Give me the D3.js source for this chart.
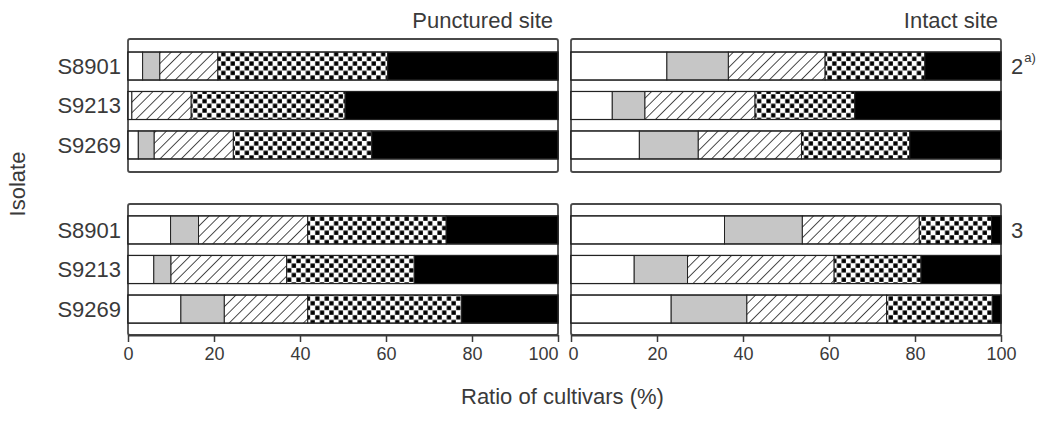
<!DOCTYPE html>
<html>
  <head>
    <meta charset="utf-8">
    <title>Ratio of cultivars by isolate</title>
    <style>
      body { margin: 0; background: #fff; }
      text { font-family: "Liberation Sans", Arial, sans-serif; fill: #3a3a3a; }
    </style>
  </head>
  <body>
    <script src="https://cdn.jsdelivr.net/npm/d3@7"></script>
    <script>

var width = 1050,
    height = 422;

// isolates, top to bottom
var isolates = ["S8901", "S9213", "S9269"];

// five cultivar classes, left to right in every bar
var classes = ["c1", "c2", "c3", "c4", "c5"];

// % per class for each isolate (rows follow isolates)
var punctured2 = [
  [3.4, 4.0, 13.5, 39.5, 39.6],
  [0.9, 0.0, 13.8, 35.8, 49.5],
  [2.4, 3.7, 18.4, 32.2, 43.3]
];
var intact2 = [
  [22.3, 14.3, 22.5, 23.2, 17.7],
  [9.6, 7.6, 25.6, 23.2, 34.0],
  [15.9, 13.7, 24.0, 25.2, 21.2]
];
var punctured3 = [
  [9.9, 6.5, 25.4, 32.2, 26.0],
  [6.0, 4.0, 26.9, 29.7, 33.4],
  [12.3, 10.1, 19.4, 35.8, 22.4]
];
var intact3 = [
  [35.7, 18.1, 27.2, 16.8, 2.2],
  [14.7, 12.4, 34.1, 20.2, 18.6],
  [23.3, 17.6, 32.5, 24.6, 2.0]
];

var columnTitles = ["Punctured site", "Intact site"];
var xTicks = [0, 20, 40, 60, 80, 100];

var svg = d3.select("body").append("svg")
    .attr("width", width)
    .attr("height", height);

// fills for the classes
var defs = svg.append("defs");

var hatch = defs.append("pattern")
    .attr("id", "hatch")
    .attr("patternUnits", "userSpaceOnUse")
    .attr("width", 7.5)
    .attr("height", 7.5)
    .attr("patternTransform", "rotate(45)");
hatch.append("rect").attr("width", 7.5).attr("height", 7.5).attr("fill", "#fff");
hatch.append("line")
    .attr("x1", 0).attr("y1", 0).attr("x2", 0).attr("y2", 7.5)
    .attr("stroke", "#222").attr("stroke-width", 1.6);

var check = defs.append("pattern")
    .attr("id", "check")
    .attr("patternUnits", "userSpaceOnUse")
    .attr("width", 9.4)
    .attr("height", 9.4);
check.append("rect").attr("width", 9.4).attr("height", 9.4).attr("fill", "#fff");
check.append("rect").attr("x", 0.3).attr("y", 0.3).attr("width", 4.3).attr("height", 4.3).attr("fill", "#000");
check.append("rect").attr("x", 5).attr("y", 5).attr("width", 4.3).attr("height", 4.3).attr("fill", "#000");

var fill = d3.scaleOrdinal()
    .domain(classes)
    .range(["#fff", "#c6c6c6", "url(#hatch)", "url(#check)", "#000"]);

var stack = d3.stack().keys(classes);

function toRows(values) {
  return isolates.map(function (name, i) {
    var row = { isolate: name };
    classes.forEach(function (k, j) { row[k] = values[i][j]; });
    return row;
  });
}

var xLeft = d3.scaleLinear().domain([0, 100]).range([128, 558]);
var xRight = d3.scaleLinear().domain([0, 100]).range([571, 1001]);

var yTop = d3.scaleBand().domain(isolates).range([39, 172]).paddingInner(0.29).paddingOuter(0.33);
var yBottom = d3.scaleBand().domain(isolates).range([204, 335]).paddingInner(0.29).paddingOuter(0.3);

var panels = [
  { values: punctured2, x: xLeft, y: yTop, axis: false },
  { values: intact2, x: xRight, y: yTop, axis: false },
  { values: punctured3, x: xLeft, y: yBottom, axis: true },
  { values: intact3, x: xRight, y: yBottom, axis: true }
];

panels.forEach(function (p) {
  var g = svg.append("g");
  var x = p.x, y = p.y;
  var r0 = y.range()[0], r1 = y.range()[1];

  // panel frame
  g.append("rect")
      .attr("x", x(0))
      .attr("y", r0)
      .attr("width", x(100) - x(0))
      .attr("height", r1 - r0)
      .attr("rx", 2)
      .attr("fill", "none")
      .attr("stroke", "#4a4a4a")
      .attr("stroke-width", 1.8);

  var series = stack(toRows(p.values));

  g.selectAll("g.layer")
    .data(series)
    .enter().append("g")
      .attr("class", "layer")
      .attr("fill", function (d) { return fill(d.key); })
    .selectAll("rect")
    .data(function (d) { return d; })
    .enter().append("rect")
      .attr("x", function (d) { return x(d[0]); })
      .attr("y", function (d) { return y(d.data.isolate); })
      .attr("width", function (d) { return x(d[1]) - x(d[0]); })
      .attr("height", y.bandwidth())
      .attr("stroke", "#222")
      .attr("stroke-width", 1);

  // row outline across the whole width
  g.selectAll("rect.row")
    .data(isolates)
    .enter().append("rect")
      .attr("class", "row")
      .attr("x", x(0))
      .attr("y", function (d) { return y(d); })
      .attr("width", x(100) - x(0))
      .attr("height", y.bandwidth())
      .attr("fill", "none")
      .attr("stroke", "#222")
      .attr("stroke-width", 1.2);

  if (p.axis) {
    var ax = g.append("g")
        .attr("transform", "translate(0," + r1 + ")")
        .call(d3.axisBottom(x).tickValues(xTicks).tickSize(7).tickSizeOuter(0).tickPadding(5));
    ax.select(".domain").attr("stroke", "#3a3a3a").attr("stroke-width", 1.8);
    ax.selectAll(".tick line").attr("stroke", "#3a3a3a").attr("stroke-width", 1.5);
    ax.selectAll(".tick text")
        .attr("font-size", 18)
        .attr("font-family", "Liberation Sans, Arial, sans-serif")
        .attr("fill", "#3a3a3a")
        .attr("text-anchor", function (d) {
          // keep the two panels' end labels apart
          if (x === xLeft && d === 100) return "end";
          if (x === xRight && d === 0) return "start";
          return "middle";
        })
        .attr("dx", function (d) {
          if (x === xRight && d === 0) return -3;
          return 0;
        });
  }

  // isolate names on the left panels
  if (x === xLeft) {
    g.selectAll("text.iso")
      .data(isolates)
      .enter().append("text")
        .attr("class", "iso")
        .attr("x", 121)
        .attr("y", function (d) { return y(d) + y.bandwidth() / 2; })
        .attr("dy", "0.36em")
        .attr("text-anchor", "end")
        .attr("font-size", 22)
        .text(function (d) { return d; });
  }
});

// column titles
svg.append("text")
    .attr("x", 553).attr("y", 28)
    .attr("text-anchor", "end")
    .attr("font-size", 22)
    .text(columnTitles[0]);
svg.append("text")
    .attr("x", 998).attr("y", 28)
    .attr("text-anchor", "end")
    .attr("font-size", 22)
    .text(columnTitles[1]);

// experiment labels on the right
var lab2 = svg.append("text")
    .attr("x", 1011).attr("y", yTop("S8901") + yTop.bandwidth() / 2)
    .attr("dy", "0.36em")
    .attr("font-size", 22);
lab2.append("tspan").text("2");
lab2.append("tspan").attr("font-size", 13).attr("dy", "-0.9em").attr("dx", 1).text("a)");

svg.append("text")
    .attr("x", 1011).attr("y", yBottom("S8901") + yBottom.bandwidth() / 2)
    .attr("dy", "0.36em")
    .attr("font-size", 22)
    .text("3");

// axis titles
svg.append("text")
    .attr("transform", "translate(25,184) rotate(-90)")
    .attr("text-anchor", "middle")
    .attr("font-size", 22)
    .text("Isolate");

svg.append("text")
    .attr("x", 461).attr("y", 404)
    .attr("font-size", 22)
    .text("Ratio of cultivars (%)");

    </script>
  </body>
</html>
